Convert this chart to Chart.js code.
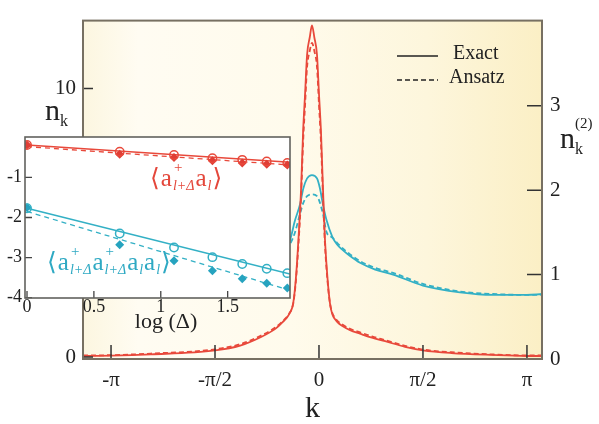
<!DOCTYPE html>
<html>
<head>
<meta charset="utf-8">
<script src="https://cdn.jsdelivr.net/npm/chart.js@4.4.1/dist/chart.umd.min.js"></script>
<style>
  html, body { margin: 0; padding: 0; background: #fff; }
  #wrap { position: relative; width: 599px; height: 424px; }
  #main { position: absolute; left: 0; top: 0; }
  #inset { position: absolute; left: 0; top: 125px; }
</style>
</head>
<body>
<div id="wrap">
  <canvas id="main" width="599" height="424"></canvas>
  <canvas id="inset" width="300" height="210"></canvas>
</div>
<script>
// main panel: momentum distribution n_k (left axis) and n_k^(2) (right axis)
const kRed = [-3.565, -3.14, -2.54, -1.57, -1.19, -0.89, -0.66, -0.55, -0.45, -0.39, -0.35, -0.31, -0.27, -0.24, -0.21, -0.18, -0.14, -0.106, -0.07, -0.03, 0, 0.03, 0.06, 0.09, 0.13, 0.166, 0.2, 0.24, 0.3, 0.36, 0.47, 0.62, 0.8, 1.0, 1.3, 1.57, 2.0, 2.6, 3.14, 3.369];
const nExact = [0.04, 0.05, 0.1, 0.25, 0.43, 0.73, 1.05, 1.3, 1.6, 2.0, 2.9, 4.4, 6.3, 8.4, 9.8, 11.26, 11.9, 12.35, 11.9, 11.26, 9.8, 8.4, 6.3, 4.4, 2.9, 2.0, 1.6, 1.42, 1.25, 1.15, 1.0, 0.87, 0.72, 0.59, 0.38, 0.25, 0.15, 0.08, 0.04, 0.04];
const nAnsatz = [0.06, 0.07, 0.13, 0.29, 0.48, 0.78, 1.1, 1.33, 1.62, 1.98, 2.8, 4.2, 6.0, 8.0, 9.4, 10.8, 11.4, 11.7, 11.4, 10.8, 9.4, 8.0, 6.0, 4.2, 2.8, 2.0, 1.65, 1.47, 1.3, 1.2, 1.05, 0.92, 0.77, 0.63, 0.42, 0.28, 0.18, 0.1, 0.06, 0.06];

const kCyan = [-0.5, -0.438, -0.363, -0.287, -0.237, -0.18, -0.106, -0.03, 0.015, 0.06, 0.116, 0.2, 0.27, 0.36, 0.47, 0.62, 0.85, 1.12, 1.57, 2.13, 2.63, 3.14, 3.369];
const n2Exact = [1.33, 1.41, 1.64, 1.83, 2.02, 2.14, 2.18, 2.14, 2.02, 1.83, 1.64, 1.45, 1.36, 1.29, 1.22, 1.14, 1.06, 1.0, 0.87, 0.79, 0.76, 0.76, 0.77];
const n2Ansatz = [1.3, 1.36, 1.5, 1.72, 1.85, 1.93, 1.95, 1.93, 1.85, 1.72, 1.5, 1.44, 1.38, 1.31, 1.24, 1.16, 1.08, 1.02, 0.89, 0.8, 0.77, 0.76, 0.76];

const xTickVals = [-Math.PI, -Math.PI / 2, 0, Math.PI / 2, Math.PI];
const xTickLabels = ['-π', '-π/2', '0', 'π/2', 'π'];
const nTicks = [0, 10];
const n2Ticks = [0, 1, 2, 3];

// inset: log-log decay of correlations
const logD = [0, 0.693, 1.099, 1.386, 1.609, 1.792, 1.946];
const redExact = [-0.19, -0.36, -0.44, -0.52, -0.56, -0.6, -0.64];
const redAnsatz = [-0.19, -0.42, -0.5, -0.58, -0.64, -0.67, -0.69];
const cyanExact = [-1.77, -2.4, -2.75, -2.99, -3.16, -3.28, -3.39];
const cyanAnsatz = [-1.75, -2.68, -3.08, -3.33, -3.53, -3.64, -3.76];
const fitX = [0, 1.966];
const redFitExact = [-0.19, -0.62];
const redFitAnsatz = [-0.23, -0.69];
const cyanFitExact = [-1.77, -3.41];
const cyanFitAnsatz = [-1.85, -3.82];
const insetXTicks = [0, 0.5, 1, 1.5];
const insetXLabels = ['0', '0.5', '1', '1.5'];
const insetYTicks = [-1, -2, -3, -4];

const SERIF = '"Liberation Serif", "DejaVu Serif", serif';
const RED = '#e8493b';
const CYAN = '#33b0c5';
const INK = '#222';
const FRAME = '#777062';

const pts = (xs, ys) => xs.map((x, i) => ({ x: x, y: ys[i] }));

const bgPlugin = {
  id: 'bg',
  beforeDraw(c) {
    const { ctx, chartArea: a } = c;
    const g = ctx.createLinearGradient(a.left, 0, a.right, 0);
    g.addColorStop(0, '#fcf6e0');
    g.addColorStop(0.12, '#fffcf2');
    g.addColorStop(0.45, '#fffbec');
    g.addColorStop(0.75, '#fdf6dc');
    g.addColorStop(1, '#fbefc5');
    ctx.save();
    ctx.fillStyle = g;
    ctx.fillRect(a.left, a.top, a.width, a.height);
    ctx.restore();
  }
};

function drawN(ctx, x, y, sup) {
  ctx.font = '30px ' + SERIF;
  ctx.fillText('n', x, y);
  const w = ctx.measureText('n').width;
  ctx.font = '16px ' + SERIF;
  ctx.fillText('k', x + w, y + 6);
  if (sup) {
    ctx.font = '15px ' + SERIF;
    ctx.fillText(sup, x + w, y - 20);
  }
}

const decoPlugin = {
  id: 'deco',
  afterDraw(c) {
    const { ctx, chartArea: a, scales } = c;
    ctx.save();
    // inward ticks
    ctx.strokeStyle = '#333';
    ctx.lineWidth = 1.5;
    ctx.beginPath();
    xTickVals.forEach(v => {
      const px = scales.x.getPixelForValue(v);
      ctx.moveTo(px, a.bottom); ctx.lineTo(px, a.bottom - 14);
    });
    nTicks.forEach(v => {
      const py = scales.y.getPixelForValue(v);
      ctx.moveTo(a.left, py); ctx.lineTo(a.left + 10, py);
    });
    n2Ticks.forEach(v => {
      const py = scales.y2.getPixelForValue(v);
      ctx.moveTo(a.right, py); ctx.lineTo(a.right - 15, py);
    });
    ctx.stroke();
    // frame
    ctx.strokeStyle = FRAME;
    ctx.lineWidth = 2;
    ctx.strokeRect(a.left, a.top, a.width, a.height);
    // legend
    ctx.strokeStyle = '#222';
    ctx.lineWidth = 1.5;
    ctx.beginPath(); ctx.moveTo(397, 56); ctx.lineTo(438, 56); ctx.stroke();
    ctx.setLineDash([5, 3]);
    ctx.beginPath(); ctx.moveTo(397, 80); ctx.lineTo(438, 80); ctx.stroke();
    ctx.setLineDash([]);
    ctx.fillStyle = INK;
    ctx.textBaseline = 'alphabetic';
    ctx.font = '20px ' + SERIF;
    ctx.fillText('Exact', 453, 59);
    ctx.fillText('Ansatz', 449, 83);
    // axis titles with sub/superscripts
    drawN(ctx, 45, 120, null);
    drawN(ctx, 560, 148, '(2)');
    ctx.restore();
  }
};

const tickFont = { family: SERIF, size: 21 };

new Chart(document.getElementById('main'), {
  type: 'line',
  data: {
    datasets: [
      { label: 'Exact', data: pts(kRed, nExact), yAxisID: 'y', borderColor: RED, borderWidth: 1.8, pointRadius: 0, cubicInterpolationMode: 'monotone' },
      { label: 'Ansatz', data: pts(kRed, nAnsatz), yAxisID: 'y', borderColor: RED, borderWidth: 1.8, borderDash: [5, 3], pointRadius: 0, cubicInterpolationMode: 'monotone' },
      { label: 'Exact n2', data: pts(kCyan, n2Exact), yAxisID: 'y2', borderColor: CYAN, borderWidth: 1.8, pointRadius: 0, cubicInterpolationMode: 'monotone' },
      { label: 'Ansatz n2', data: pts(kCyan, n2Ansatz), yAxisID: 'y2', borderColor: CYAN, borderWidth: 1.8, borderDash: [5, 3], pointRadius: 0, cubicInterpolationMode: 'monotone' }
    ]
  },
  options: {
    responsive: false,
    animation: false,
    events: [],
    layout: { padding: { top: 10, left: 0, right: 0, bottom: 0 } },
    plugins: { legend: { display: false }, tooltip: { enabled: false } },
    scales: {
      x: {
        type: 'linear', min: -3.565, max: 3.369,
        afterBuildTicks: s => { s.ticks = xTickVals.map(v => ({ value: v })); },
        afterFit: s => { s.height = 65; },
        ticks: { callback: (v, i) => xTickLabels[i], font: tickFont, color: INK, padding: 9, maxRotation: 0, autoSkip: false },
        grid: { display: false, drawTicks: false },
        border: { display: false },
        title: { display: true, text: 'k', font: { family: SERIF, size: 30, lineHeight: 1 }, color: INK, padding: 0 }
      },
      y: {
        position: 'left', min: -0.072, max: 12.53,
        afterBuildTicks: s => { s.ticks = nTicks.map(v => ({ value: v })); },
        afterFit: s => { s.width = 83; },
        ticks: { font: tickFont, color: INK, padding: 7 },
        grid: { display: false, drawTicks: false },
        border: { display: false }
      },
      y2: {
        position: 'right', min: 0, max: 4.01,
        afterBuildTicks: s => { s.ticks = n2Ticks.map(v => ({ value: v })); },
        afterFit: s => { s.width = 57; },
        ticks: { font: tickFont, color: INK, padding: 8 },
        grid: { display: false, drawTicks: false },
        border: { display: false }
      }
    }
  },
  plugins: [bgPlugin, decoPlugin]
});

// ---------- inset ----------
function drawFormula(ctx, x, y, parts, color) {
  ctx.fillStyle = color;
  ctx.textBaseline = 'alphabetic';
  parts.forEach(p => {
    if (typeof p === 'string') {
      ctx.font = '25px ' + SERIF;
      ctx.fillText(p, x, y);
      x += ctx.measureText(p).width + 1;
    } else {
      let w = 0;
      if (p.sup) {
        ctx.font = '15px ' + SERIF;
        ctx.fillText(p.sup, x + 1, y - 14);
        w = Math.max(w, ctx.measureText(p.sup).width + 1);
      }
      ctx.font = 'italic 14px ' + SERIF;
      ctx.fillText(p.sub, x, y + 4);
      w = Math.max(w, ctx.measureText(p.sub).width);
      x += w + 1;
    }
  });
}

const insetBg = {
  id: 'insetBg',
  beforeDraw(c) {
    const { ctx, chartArea: a } = c;
    ctx.save();
    ctx.fillStyle = '#ffffff';
    ctx.fillRect(a.left, a.top, a.width, a.height);
    ctx.restore();
  },
  afterDraw(c) {
    const { ctx, chartArea: a, scales } = c;
    ctx.save();
    ctx.strokeStyle = '#444';
    ctx.lineWidth = 1.3;
    ctx.beginPath();
    insetXTicks.forEach(v => {
      const px = scales.x.getPixelForValue(v);
      ctx.moveTo(px, a.bottom); ctx.lineTo(px, a.bottom - 7);
    });
    insetYTicks.forEach(v => {
      const py = scales.y.getPixelForValue(v);
      ctx.moveTo(a.left, py); ctx.lineTo(a.left + 7, py);
    });
    ctx.stroke();
    ctx.strokeStyle = '#62625e';
    ctx.lineWidth = 1.6;
    ctx.strokeRect(a.left, a.top, a.width, a.height);
    // axis title, slightly right of centre as in the original
    ctx.fillStyle = INK;
    ctx.font = '22px ' + SERIF;
    ctx.textAlign = 'center';
    ctx.textBaseline = 'middle';
    ctx.fillText('log (Δ)', 166, 197);
    ctx.textAlign = 'left';
    drawFormula(ctx, scales.x.getPixelForValue(0.92), scales.y.getPixelForValue(-1.22),
      ['⟨', 'a', { sup: '+', sub: 'l+Δ' }, 'a', { sub: 'l' }, '⟩'], '#e4473b');
    drawFormula(ctx, scales.x.getPixelForValue(0.15), scales.y.getPixelForValue(-3.32),
      ['⟨', 'a', { sup: '+', sub: 'l+Δ' }, 'a', { sup: '+', sub: 'l+Δ' }, 'a', { sub: 'l' }, 'a', { sub: 'l' }, '⟩'], '#2ea9c3');
    ctx.restore();
  }
};

const insetFont = { family: SERIF, size: 18, lineHeight: 1 };

new Chart(document.getElementById('inset'), {
  type: 'line',
  data: {
    datasets: [
      { data: pts(logD, redExact), showLine: false, pointStyle: 'circle', pointRadius: 4.2, pointBorderWidth: 1.5, pointBorderColor: RED, pointBackgroundColor: 'rgba(0,0,0,0)', order: 0 },
      { data: pts(logD, redAnsatz), showLine: false, pointStyle: 'rectRot', pointRadius: 4.5, pointBorderWidth: 0, pointBackgroundColor: '#e03e35', order: 1 },
      { data: pts(fitX, redFitExact), borderColor: RED, borderWidth: 1.5, pointRadius: 0, order: 2 },
      { data: pts(fitX, redFitAnsatz), borderColor: RED, borderWidth: 1.3, borderDash: [5, 4], pointRadius: 0, order: 2 },
      { data: pts(logD, cyanExact), showLine: false, pointStyle: 'circle', pointRadius: 4.2, pointBorderWidth: 1.5, pointBorderColor: CYAN, pointBackgroundColor: 'rgba(0,0,0,0)', order: 0 },
      { data: pts(logD, cyanAnsatz), showLine: false, pointStyle: 'rectRot', pointRadius: 4.5, pointBorderWidth: 0, pointBackgroundColor: '#26a3bf', order: 1 },
      { data: pts(fitX, cyanFitExact), borderColor: CYAN, borderWidth: 1.5, pointRadius: 0, order: 2 },
      { data: pts(fitX, cyanFitAnsatz), borderColor: CYAN, borderWidth: 1.3, borderDash: [5, 4], pointRadius: 0, order: 2 }
    ]
  },
  options: {
    responsive: false,
    animation: false,
    events: [],
    layout: { padding: { top: 10, right: 10, left: 0, bottom: 0 } },
    plugins: { legend: { display: false }, tooltip: { enabled: false } },
    scales: {
      x: {
        type: 'linear', min: -0.015, max: 1.966,
        afterBuildTicks: s => { s.ticks = insetXTicks.map(v => ({ value: v })); },
        afterFit: s => { s.height = 37; },
        ticks: { callback: (v, i) => insetXLabels[i], font: insetFont, color: INK, padding: 0, maxRotation: 0, autoSkip: false },
        grid: { display: false, drawTicks: false },
        border: { display: false }
      },
      y: {
        type: 'linear', min: -4.01, max: 0.01,
        afterBuildTicks: s => { s.ticks = insetYTicks.map(v => ({ value: v })); },
        afterFit: s => { s.width = 25; },
        ticks: { font: insetFont, color: INK, padding: 3 },
        grid: { display: false, drawTicks: false },
        border: { display: false }
      }
    }
  },
  plugins: [insetBg]
});
</script>
</body>
</html>
